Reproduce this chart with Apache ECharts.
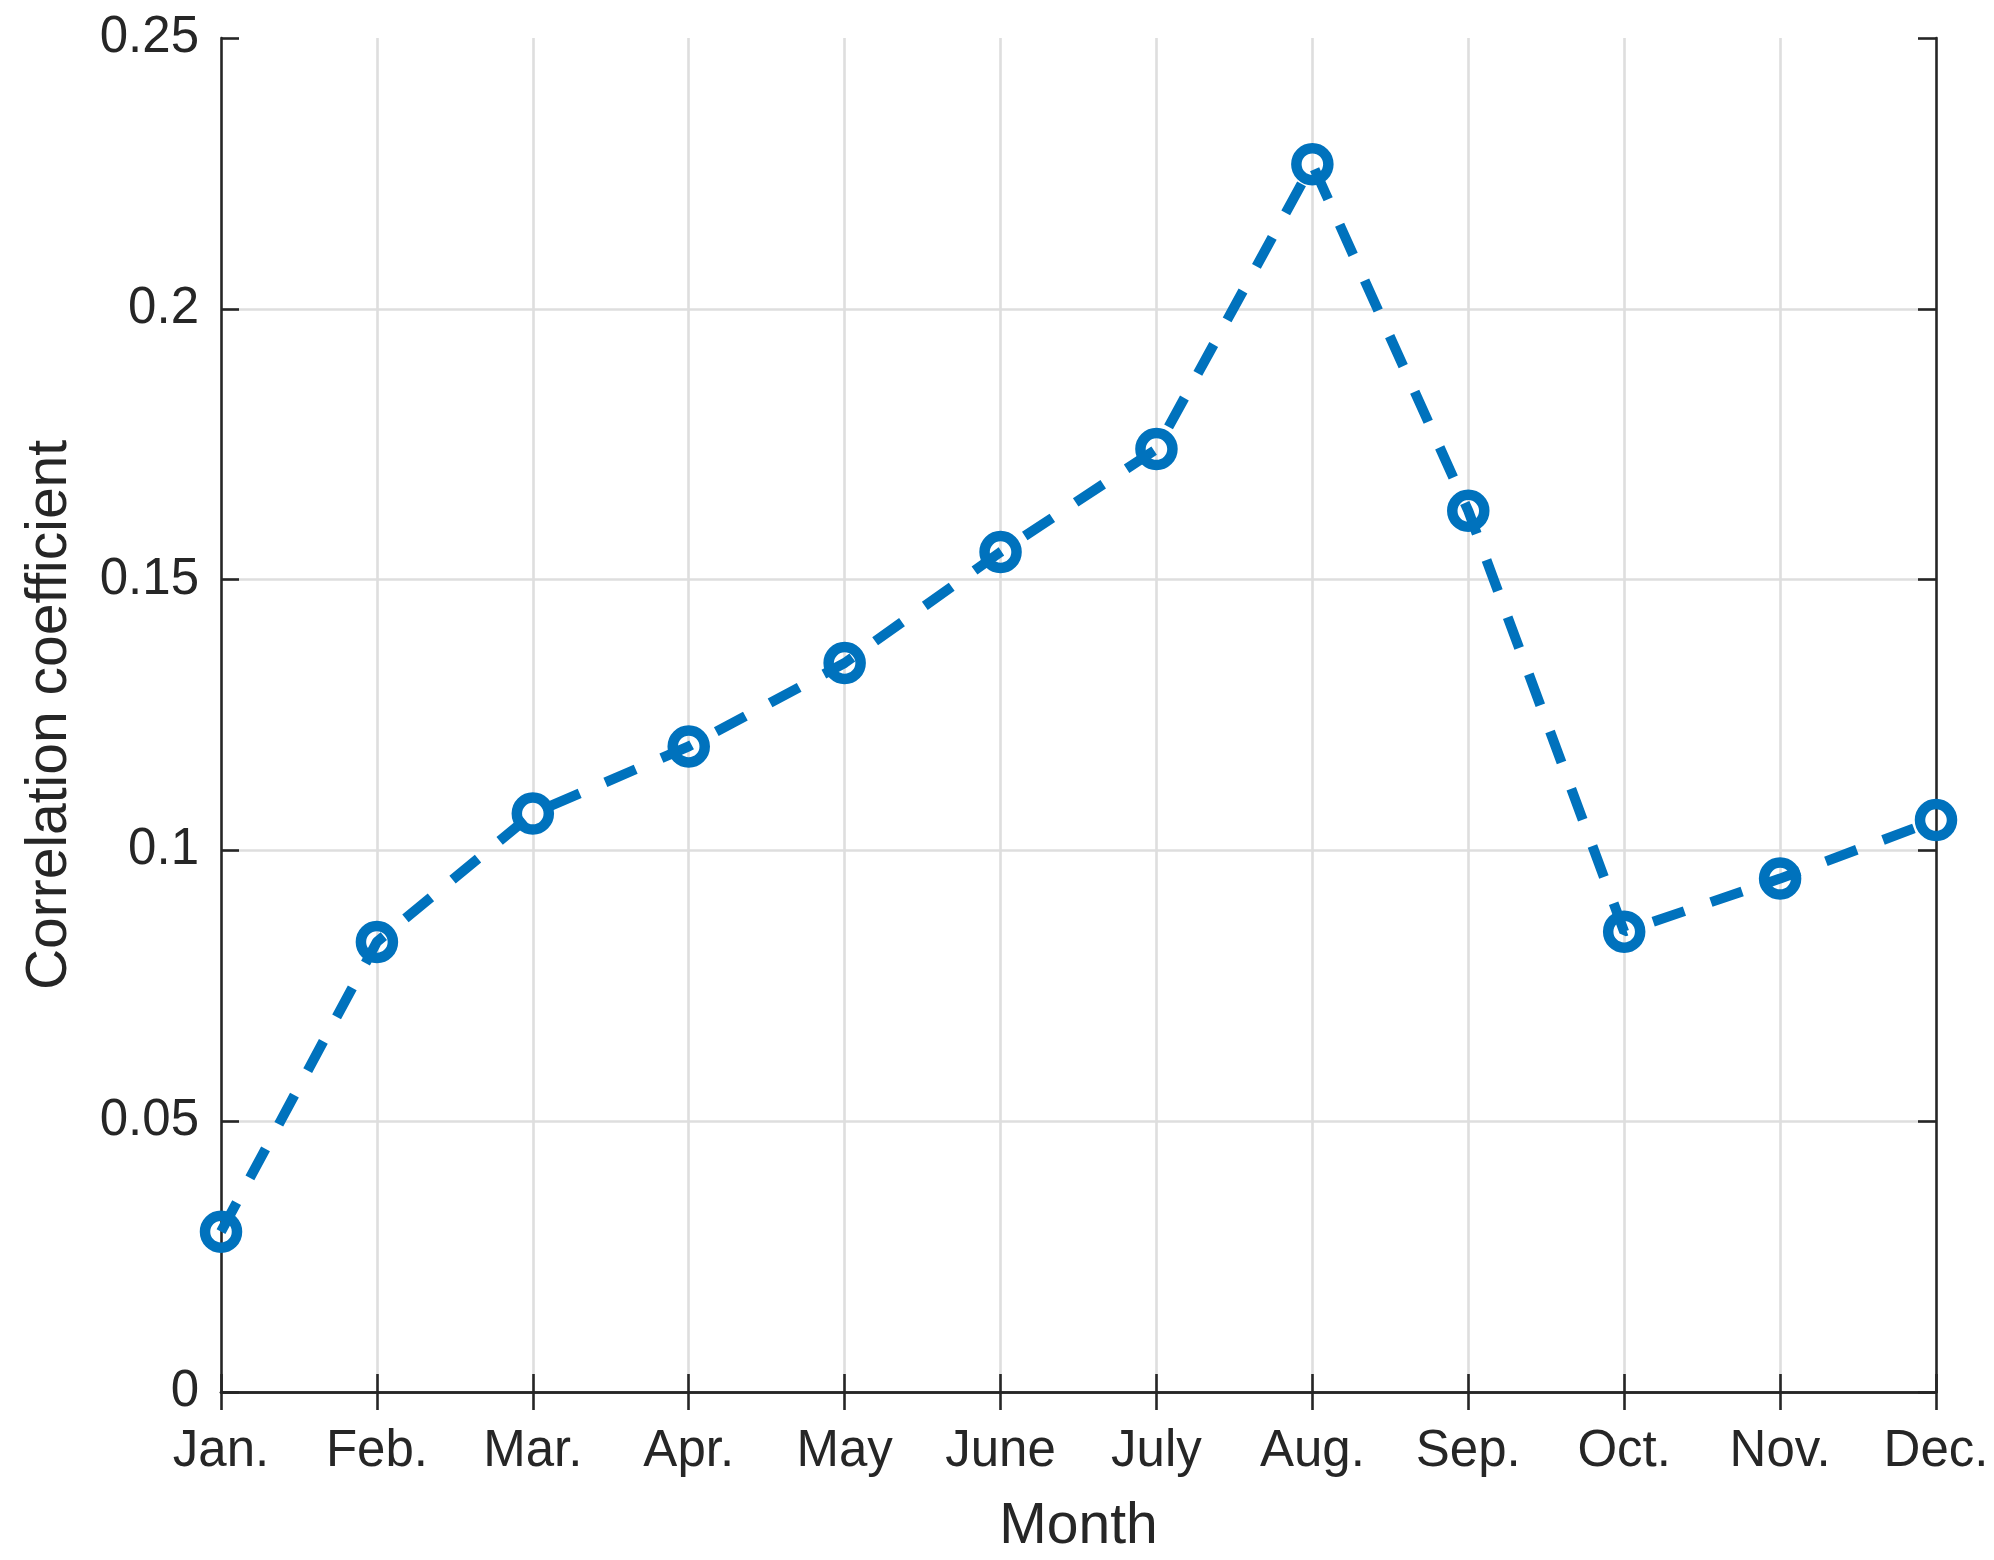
<!DOCTYPE html>
<html>
<head>
<meta charset="utf-8">
<script src="https://cdn.jsdelivr.net/npm/echarts@6/dist/echarts.min.js"></script>
<style>
  html, body { margin: 0; padding: 0; background: #fff; }
  #chart { width: 1994px; height: 1560px; }
</style>
</head>
<body>
<div id="chart"></div>
<script>
// 月ごとの相関係数
var months = ['Jan.', 'Feb.', 'Mar.', 'Apr.', 'May', 'June', 'July', 'Aug.', 'Sep.', 'Oct.', 'Nov.', 'Dec.'];
var corrValues = [0.0296, 0.0831, 0.1068, 0.1192, 0.1346, 0.1551, 0.1741, 0.2267, 0.1627, 0.0850, 0.0948, 0.1056];
var yTicks = [0, 0.05, 0.1, 0.15, 0.2, 0.25];

var textColor = '#262626';
var gridColor = '#dedede';
var lineColor = '#0072bd';
var fontName = 'Liberation Sans';

var chart = echarts.init(document.getElementById('chart'));

chart.setOption({
    animation: false,
    backgroundColor: '#ffffff',
    grid: {
        left: 221,
        right: 58,
        top: 38,
        bottom: 168,
        outerBoundsMode: 'none'
    },
    xAxis: [
        {
            type: 'category',
            data: months,
            boundaryGap: false,
            name: 'Month',
            nameLocation: 'middle',
            nameGap: 107,
            nameTextStyle: { color: textColor, fontSize: 57, fontFamily: fontName },
            axisLine: { lineStyle: { color: textColor, width: 2.6 } },
            axisTick: { inside: true, length: 18, lineStyle: { color: textColor, width: 2.6 } },
            axisLabel: { interval: 0, margin: 34, color: textColor, fontSize: 51, fontFamily: fontName },
            splitLine: {
                show: true,
                showMinLine: false,
                showMaxLine: false,
                lineStyle: { color: gridColor, width: 2.6 }
            }
        },
        {
            type: 'category',
            data: months,
            boundaryGap: false,
            position: 'top',
            axisLine: { lineStyle: { color: textColor, width: 2.6 } },
            axisTick: { inside: true, length: 18, lineStyle: { color: textColor, width: 2.6 } },
            axisLabel: { show: false },
            splitLine: { show: false }
        }
    ],
    yAxis: [
        {
            type: 'value',
            min: yTicks[0],
            max: yTicks[yTicks.length - 1],
            interval: 0.05,
            name: 'Correlation coefficient',
            nameLocation: 'middle',
            nameGap: 142,
            nameRotate: 90,
            nameTextStyle: { color: textColor, fontSize: 57, fontFamily: fontName },
            axisLine: { show: true, lineStyle: { color: textColor, width: 2.6 } },
            axisTick: { show: true, inside: true, length: 18, lineStyle: { color: textColor, width: 2.6 } },
            axisLabel: { margin: 22, color: textColor, fontSize: 51, fontFamily: fontName },
            splitLine: {
                show: true,
                showMinLine: false,
                showMaxLine: false,
                lineStyle: { color: gridColor, width: 2.6 }
            }
        },
        {
            type: 'value',
            min: yTicks[0],
            max: yTicks[yTicks.length - 1],
            interval: 0.05,
            position: 'right',
            axisLine: { show: true, lineStyle: { color: textColor, width: 2.6 } },
            axisTick: { show: true, inside: true, length: 18, lineStyle: { color: textColor, width: 2.6 } },
            axisLabel: { show: false },
            splitLine: { show: false }
        }
    ],
    series: [
        {
            name: 'corr',
            type: 'line',
            data: corrValues,
            xAxisIndex: 0,
            yAxisIndex: 0,
            symbol: 'circle',
            symbolSize: 32,
            showAllSymbol: true,
            itemStyle: {
                color: 'transparent',
                borderColor: lineColor,
                borderWidth: 10.5
            },
            lineStyle: {
                color: lineColor,
                width: 10,
                type: [33, 28],
                cap: 'butt'
            },
            emphasis: { disabled: true }
        }
    ]
});

window.addEventListener('resize', function () {
    chart.resize();
});
</script>
</body>
</html>
